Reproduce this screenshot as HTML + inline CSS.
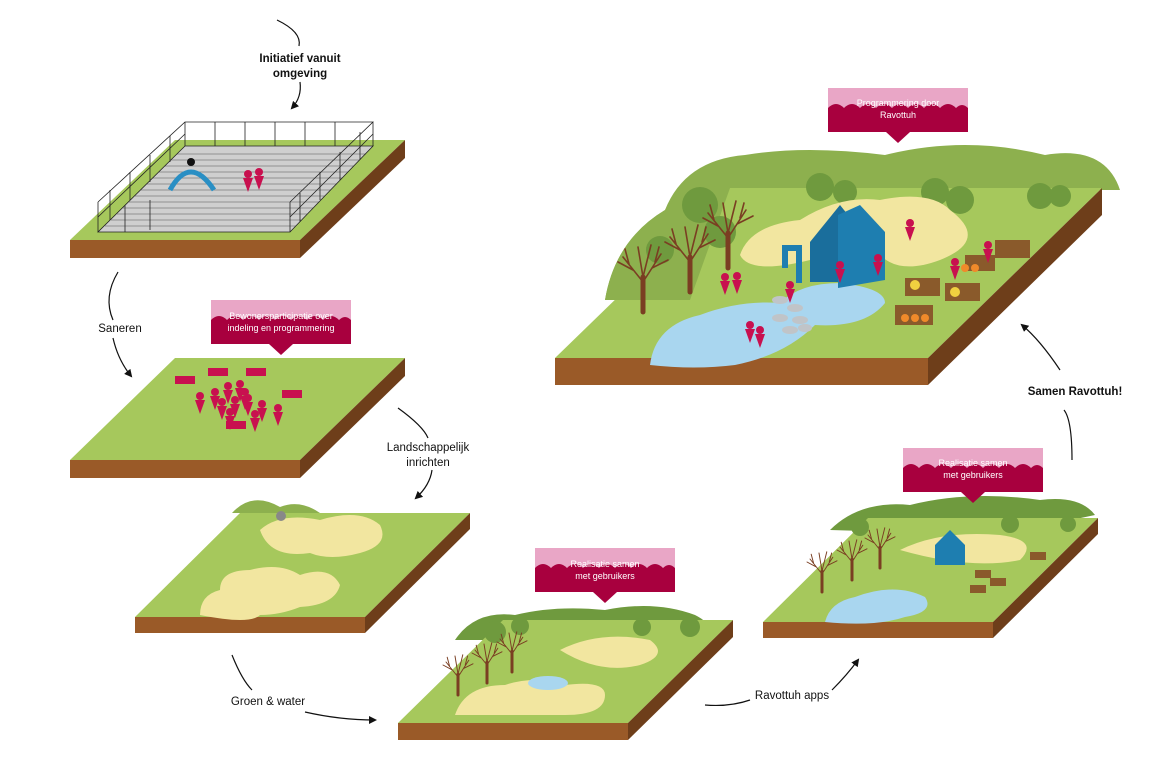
<!DOCTYPE html>
<html><head><meta charset="utf-8"><style>
html,body{margin:0;padding:0;background:#fff;width:1170px;height:780px;overflow:hidden}
svg{display:block}
text{font-family:"Liberation Sans",sans-serif}
</style></head><body>
<svg width="1170" height="780" viewBox="0 0 1170 780">
<defs>
<marker id="ah" markerWidth="8" markerHeight="8" refX="6" refY="4" orient="auto" markerUnits="userSpaceOnUse"><path d="M0,0 L8,4 L0,8 z" fill="#111"/></marker>
<g id="lbl">
<rect x="0" y="0" width="140" height="44" fill="#e9a6c6"/>
<path d="M0,20 q8,-8 16,0 q8,-8 16,0 q8,-8 16,0 q8,-8 16,0 q8,-8 16,0 q8,-8 16,0 q8,-8 16,0 q8,-8 16,0 q6,-6 12,0 V44 H0z" fill="#a8003e"/>
<path d="M58,44 L70,55 L82,44z" fill="#a8003e"/>
</g>
<g id="tree" stroke="#7a3e22" fill="none" stroke-linecap="round">
<path d="M0,0 v-35" stroke-width="5"/>
<path d="M0,-30 l-20,-25 M0,-30 l18,-28 M0,-35 l-5,-30 M0,-35 l8,-32 M-10,-42 l-15,-8 M9,-44 l16,-8 M-14,-48 l-4,-15 M12,-50 l4,-15" stroke-width="1.6"/>
</g>
<g id="p" fill="#c8104f"><circle cx="0" cy="0" r="4"/><path d="M-5,4h10l-5,14z"/></g>
</defs>

<!-- Slab 1 -->
<polygon points="70,240 300,240 405,140 175,140" fill="#a6c85c"/>
<polygon points="70,240 300,240 300,258 70,258" fill="#9a5a28"/>
<polygon points="300,240 405,140 405,158 300,258" fill="#6e3e1a"/>
<polygon points="98,232 290,232 373,146 185,146" fill="#cfcfcf"/>
<g stroke="#555" stroke-width="0.5" fill="none">
<path d="M105,226H296 M111,220H301 M117,214H307 M123,208H313 M129,202H319 M135,196H325 M141,190H331 M147,184H337 M153,178H342 M159,172H348 M165,166H354 M171,160H360 M177,154H366"/>
</g>
<g stroke="#222" stroke-width="0.8" fill="none">
<path d="M98,232H290L373,146H185Z"/>
<path d="M98,232V202 M185,146V122 M373,146V122 M290,232V202 M98,202L185,122H373L290,202"/>
<path d="M125,232V205 M150,230V200 M110,220V190 M130,200V172 M150,182V155 M170,162V136 M215,146V122 M245,146V122 M275,146V122 M305,146V122 M335,146V122 M300,222V193 M320,200V172 M340,180V152 M360,160V132"/>
<path d="M98,217L185,134 M290,217L373,134"/>
</g>
<path d="M170,190 q20,-36 44,0" stroke="#2a8fc4" stroke-width="5" fill="none"/>
<circle cx="191" cy="162" r="4" fill="#111"/>
<use href="#p" x="248" y="174"/>
<use href="#p" x="259" y="172"/>

<!-- Slab 2 -->
<polygon points="70,460 300,460 405,358 175,358" fill="#a6c85c"/>
<polygon points="70,460 300,460 300,478 70,478" fill="#9a5a28"/>
<polygon points="300,460 405,358 405,376 300,478" fill="#6e3e1a"/>
<use href="#p" x="200" y="396"/><use href="#p" x="215" y="392"/><use href="#p" x="228" y="386"/><use href="#p" x="240" y="384"/>
<use href="#p" x="222" y="402"/><use href="#p" x="235" y="400"/><use href="#p" x="248" y="398"/><use href="#p" x="262" y="404"/>
<use href="#p" x="278" y="408"/><use href="#p" x="230" y="412"/><use href="#p" x="245" y="392"/><use href="#p" x="255" y="414"/>
<g fill="#c8104f"><rect x="175" y="376" width="20" height="8"/><rect x="208" y="368" width="20" height="8"/><rect x="246" y="368" width="20" height="8"/><rect x="282" y="390" width="20" height="8"/><rect x="226" y="421" width="20" height="8"/></g>
<use href="#lbl" x="211" y="300"/>
<text x="281" y="319" font-size="9" fill="#fff" text-anchor="middle">Bewonersparticipatie over</text>
<text x="281" y="331" font-size="9" fill="#fff" text-anchor="middle">indeling en programmering</text>

<!-- Slab 3 -->
<path d="M232,513 q20,-22 48,-6 q20,-8 40,6z" fill="#8db04e"/>
<polygon points="135,617 365,617 470,513 240,513" fill="#a6c85c"/>
<polygon points="135,617 365,617 365,633 135,633" fill="#9a5a28"/>
<polygon points="365,617 470,513 470,529 365,633" fill="#6e3e1a"/>
<g fill="#f2e6a0">
<path d="M260,530 q20,-18 60,-10 q40,-12 60,5 q10,20 -20,28 q-30,8 -50,0 q-40,6 -50,-23z"/>
<path d="M200,615 q0,-20 20,-25 q0,-20 30,-20 q30,-8 50,5 q30,-10 40,10 q-5,20 -40,22 q-20,8 -40,8 q-10,10 -60,0z"/>
</g>
<circle cx="281" cy="516" r="5" fill="#888"/>

<!-- Slab 4 -->
<path d="M455,640 q20,-30 60,-25 q40,-10 90,-5 q50,-10 90,5 q20,10 10,20 L700,640z" fill="#6f9a3e"/>
<polygon points="398,723 628,723 733,620 503,620" fill="#a6c85c"/>
<g fill="#6f9a3e"><circle cx="495" cy="632" r="11"/><circle cx="520" cy="626" r="9"/><circle cx="642" cy="627" r="9"/><circle cx="690" cy="627" r="10"/></g>
<polygon points="398,723 628,723 628,740 398,740" fill="#9a5a28"/>
<polygon points="628,723 733,620 733,637 628,740" fill="#6e3e1a"/>
<path d="M455,715 q10,-30 50,-30 q30,-10 60,0 q40,-5 40,10 q0,20 -40,20z M560,650 q40,-20 90,-10 q20,15 -10,25 q-40,10 -80,-15z" fill="#f2e6a0"/>
<ellipse cx="548" cy="683" rx="20" ry="7" fill="#a9d6ef"/>
<use href="#tree" transform="translate(458,695) scale(0.6)"/>
<use href="#tree" transform="translate(487,683) scale(0.6)"/>
<use href="#tree" transform="translate(512,672) scale(0.6)"/>
<use href="#lbl" x="535" y="548"/>
<text x="605" y="567" font-size="9" fill="#fff" text-anchor="middle">Realisatie samen</text>
<text x="605" y="579" font-size="9" fill="#fff" text-anchor="middle">met gebruikers</text>

<!-- Slab 5 -->
<path d="M830,530 q30,-30 80,-25 q60,-15 130,-5 q40,-5 55,15 L1000,535z" fill="#6f9a3e"/>
<polygon points="763,622 993,622 1098,518 868,518" fill="#a6c85c"/>
<g fill="#6f9a3e"><circle cx="860" cy="527" r="9"/><circle cx="1010" cy="524" r="9"/><circle cx="1068" cy="524" r="8"/></g>
<polygon points="763,622 993,622 993,638 763,638" fill="#9a5a28"/>
<polygon points="993,622 1098,518 1098,534 993,638" fill="#6e3e1a"/>
<path d="M900,550 q40,-20 100,-15 q40,5 20,25 q-50,10 -120,-10z" fill="#f2e6a0"/>
<path d="M825,622 q5,-20 30,-25 q40,-15 70,0 q10,15 -20,20 q-30,10 -80,5z" fill="#a9d6ef"/>
<polygon points="935,545 950,530 965,545 965,565 935,565" fill="#1e7eb0"/>
<g fill="#8a5a2b"><rect x="975" y="570" width="16" height="8"/><rect x="990" y="578" width="16" height="8"/><rect x="1030" y="552" width="16" height="8"/><rect x="970" y="585" width="16" height="8"/></g>
<use href="#tree" transform="translate(822,592) scale(0.6)"/>
<use href="#tree" transform="translate(852,580) scale(0.6)"/>
<use href="#tree" transform="translate(880,568) scale(0.6)"/>
<use href="#lbl" x="903" y="448"/>
<text x="973" y="466" font-size="9" fill="#fff" text-anchor="middle">Realisatie samen</text>
<text x="973" y="478" font-size="9" fill="#fff" text-anchor="middle">met gebruikers</text>

<!-- Slab 6 big -->
<path d="M605,300 q10,-60 60,-90 q20,-50 80,-55 q60,-10 140,0 q80,-20 160,0 q60,-10 75,35 L1100,190 L730,200z" fill="#8db04e"/>
<polygon points="555,358 928,358 1102,188 730,188" fill="#a6c85c"/>
<path d="M605,300 q10,-60 60,-90 q20,-30 65,-22 L690,300z" fill="#8db04e"/>
<g fill="#6f9a3e"><circle cx="700" cy="205" r="18"/><circle cx="720" cy="232" r="16"/><circle cx="820" cy="187" r="14"/><circle cx="845" cy="192" r="12"/><circle cx="935" cy="192" r="14"/><circle cx="960" cy="200" r="14"/><circle cx="1040" cy="196" r="13"/><circle cx="1060" cy="196" r="11"/><circle cx="660" cy="250" r="14"/></g>
<polygon points="555,358 928,358 928,385 555,385" fill="#9a5a28"/>
<polygon points="928,358 1102,188 1102,215 928,385" fill="#6e3e1a"/>
<path d="M740,255 q10,-30 60,-35 q40,-25 80,-20 q50,-10 70,10 q40,30 -10,50 q-40,15 -60,-5 q-20,10 -70,5 q-60,15 -70,-5z" fill="#f2e6a0"/>
<path d="M650,365 q5,-40 50,-50 q40,-15 80,-12 q20,-20 60,-20 q45,5 45,20 q-20,25 -70,22 q-30,30 -80,40 q-40,5 -85,0z" fill="#a9d6ef"/>
<polygon points="810,242 840,205 848,215 848,282 810,282" fill="#1a6e9c"/>
<polygon points="838,215 860,205 885,232 885,280 838,288" fill="#1e7eb0"/>
<path d="M785,268 v-20 h14 v35" stroke="#1e7eb0" stroke-width="6" fill="none"/>
<g fill="#c0c4c8"><ellipse cx="780" cy="300" rx="8" ry="4"/><ellipse cx="795" cy="308" rx="8" ry="4"/><ellipse cx="780" cy="318" rx="8" ry="4"/><ellipse cx="800" cy="320" rx="8" ry="4"/><ellipse cx="790" cy="330" rx="8" ry="4"/><ellipse cx="805" cy="328" rx="7" ry="4"/></g>
<use href="#tree" transform="translate(643,312)"/>
<use href="#tree" transform="translate(690,292)"/>
<use href="#tree" transform="translate(728,268)"/>
<g fill="#8a5a2b"><rect x="895" y="305" width="38" height="20"/><rect x="945" y="283" width="35" height="18"/><rect x="995" y="240" width="35" height="18"/><rect x="905" y="278" width="35" height="18"/><rect x="965" y="255" width="30" height="16"/></g>
<g fill="#f08a2a"><circle cx="905" cy="318" r="4"/><circle cx="915" cy="318" r="4"/><circle cx="925" cy="318" r="4"/><circle cx="965" cy="268" r="4"/><circle cx="975" cy="268" r="4"/></g>
<g fill="#f0d040"><circle cx="955" cy="292" r="5"/><circle cx="915" cy="285" r="5"/></g>
<use href="#p" x="840" y="265"/><use href="#p" x="878" y="258"/><use href="#p" x="760" y="330"/><use href="#p" x="988" y="245"/>
<use href="#p" x="725" y="277"/><use href="#p" x="737" y="276"/><use href="#p" x="790" y="285"/><use href="#p" x="750" y="325"/><use href="#p" x="955" y="262"/><use href="#p" x="910" y="223"/>
<use href="#lbl" x="828" y="88"/>
<text x="898" y="106" font-size="9" fill="#fff" text-anchor="middle">Programmering door</text>
<text x="898" y="118" font-size="9" fill="#fff" text-anchor="middle">Ravottuh</text>

<!-- Arrows & labels -->
<g stroke="#111" stroke-width="1.2" fill="none">
<path d="M277,20 q25,12 22,26" />
<path d="M300,82 q2,15 -8,26" marker-end="url(#ah)"/>
<path d="M118,272 q-15,25 -5,48"/>
<path d="M113,338 q5,22 18,38" marker-end="url(#ah)"/>
<path d="M398,408 q25,18 30,30"/>
<path d="M432,470 q-2,15 -16,28" marker-end="url(#ah)"/>
<path d="M232,655 q10,25 20,35"/>
<path d="M305,712 q35,8 70,8" marker-end="url(#ah)"/>
<path d="M705,705 q25,2 45,-5"/>
<path d="M832,690 q15,-15 26,-30" marker-end="url(#ah)"/>
<path d="M1072,460 q0,-40 -8,-50"/>
<path d="M1060,370 q-20,-30 -38,-45" marker-end="url(#ah)"/>
</g>
<g font-size="11.5" fill="#111" text-anchor="middle">
<text x="300" y="62" font-weight="bold">Initiatief vanuit</text>
<text x="300" y="77" font-weight="bold">omgeving</text>
<text x="120" y="332">Saneren</text>
<text x="428" y="451">Landschappelijk</text>
<text x="428" y="466">inrichten</text>
<text x="268" y="705">Groen &amp; water</text>
<text x="792" y="699">Ravottuh apps</text>
<text x="1075" y="395" font-weight="bold">Samen Ravottuh!</text>
</g>
</svg>
</body></html>
